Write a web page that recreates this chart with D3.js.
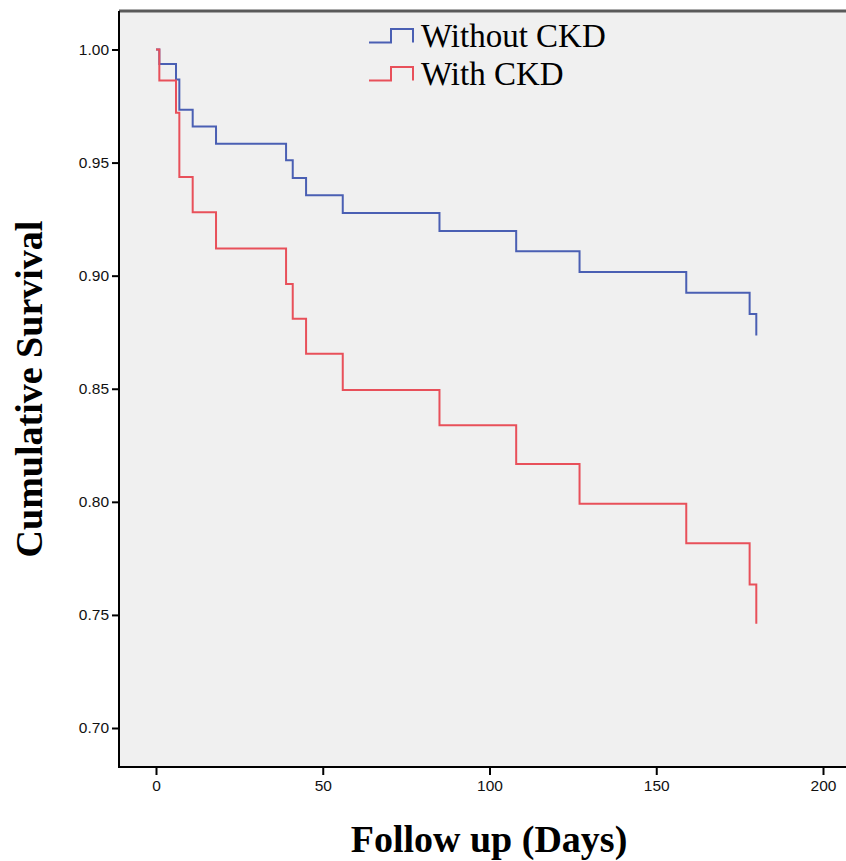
<!DOCTYPE html>
<html>
<head>
<meta charset="utf-8">
<script src="https://cdn.jsdelivr.net/npm/d3@7"></script>
<style>
  html, body { margin: 0; padding: 0; background: #ffffff; }
  svg { display: block; }
</style>
</head>
<body>
<svg id="chart" width="846" height="861"></svg>
<script>
// ---- data ----
const seriesNames = ["Without CKD", "With CKD"];
const seriesColors = ["#4a5fb3", "#e8505a"];
const days = [0, 1, 6, 7, 11, 18, 39, 41, 45, 56, 85, 108, 127, 159, 178, 180];
const survivalWithout = [1.0, 0.9936, 0.9867, 0.9734, 0.966, 0.9583, 0.951, 0.9432, 0.9356, 0.9277, 0.9197, 0.9108, 0.9016, 0.8924, 0.883, 0.8735];
const survivalWith = [1.0, 0.9863, 0.972, 0.9436, 0.928, 0.912, 0.8963, 0.881, 0.8655, 0.8495, 0.8339, 0.8167, 0.7991, 0.7817, 0.7635, 0.7461];
const xTicks = [0, 50, 100, 150, 200];
const yTicks = [0.70, 0.75, 0.80, 0.85, 0.90, 0.95, 1.00];
const xTitle = "Follow up (Days)";
const yTitle = "Cumulative Survival";

// ---- layout ----
const svg = d3.select("#chart");
const plotLeft = 119, plotTop = 11, plotBottom = 767, plotRight = 846;

const x = d3.scaleLinear().domain([0, 200]).range([156, 823]);
const y = d3.scaleLinear().domain([0.70, 1.00]).range([728, 49.5]);

// plot background
svg.append("rect")
  .attr("x", plotLeft).attr("y", plotTop)
  .attr("width", plotRight - plotLeft).attr("height", plotBottom - plotTop)
  .attr("fill", "#f0f0f0");

// top border
svg.append("line")
  .attr("x1", plotLeft).attr("x2", plotRight)
  .attr("y1", plotTop).attr("y2", plotTop)
  .attr("stroke", "#5a5a5a").attr("stroke-width", 3);

// axes
const yAxis = d3.axisLeft(y).tickValues(yTicks).tickFormat(d3.format(".2f")).tickSize(7).tickPadding(3);
const gy = svg.append("g").attr("transform", `translate(${plotLeft},0)`).call(yAxis);
gy.select(".domain").remove();
gy.selectAll(".tick line").attr("stroke", "#000").attr("stroke-width", 2);
gy.selectAll(".tick text").attr("font-family", "'Liberation Sans', Arial, sans-serif").attr("font-size", 15.5).attr("fill", "#111");

const xAxis = d3.axisBottom(x).tickValues(xTicks).tickFormat(d3.format("d")).tickSize(8).tickPadding(5);
const gx = svg.append("g").attr("transform", `translate(0,${plotBottom})`).call(xAxis);
gx.select(".domain").remove();
gx.selectAll(".tick line").attr("stroke", "#000").attr("stroke-width", 2);
gx.selectAll(".tick text").attr("font-family", "'Liberation Sans', Arial, sans-serif").attr("font-size", 15.5).attr("fill", "#111");

// axis lines
svg.append("line")
  .attr("x1", plotLeft).attr("x2", plotLeft)
  .attr("y1", plotTop).attr("y2", plotBottom + 1)
  .attr("stroke", "#000").attr("stroke-width", 2);
svg.append("line")
  .attr("x1", plotLeft).attr("x2", plotRight)
  .attr("y1", plotBottom).attr("y2", plotBottom)
  .attr("stroke", "#000").attr("stroke-width", 2);

// curves
const line = d3.line()
  .x(d => x(d[0]))
  .y(d => y(d[1]))
  .curve(d3.curveStepAfter);

const allSeries = [survivalWithout, survivalWith];
allSeries.forEach((vals, i) => {
  svg.append("path")
    .datum(days.map((t, j) => [t, vals[j]]))
    .attr("fill", "none")
    .attr("stroke", seriesColors[i])
    .attr("stroke-width", 2)
    .attr("d", line);
});

// legend
const legendBaselines = [47, 85];
seriesNames.forEach((name, i) => {
  const b = legendBaselines[i] - 4.5;
  const t = b - 13.5;
  svg.append("path")
    .attr("d", `M369,${b} H391 V${t} H413 V${b}`)
    .attr("fill", "none")
    .attr("stroke", seriesColors[i])
    .attr("stroke-width", 2);
  svg.append("text")
    .attr("x", 421).attr("y", legendBaselines[i])
    .attr("font-family", "'Liberation Serif', 'Times New Roman', serif")
    .attr("font-size", 33)
    .attr("fill", "#000")
    .text(name);
});

// axis titles
svg.append("text")
  .attr("x", 489).attr("y", 852)
  .attr("text-anchor", "middle")
  .attr("font-family", "'Liberation Serif', 'Times New Roman', serif")
  .attr("font-weight", "bold")
  .attr("font-size", 38)
  .attr("fill", "#000")
  .text(xTitle);

svg.append("text")
  .attr("transform", "translate(42,389) rotate(-90)")
  .attr("text-anchor", "middle")
  .attr("font-family", "'Liberation Serif', 'Times New Roman', serif")
  .attr("font-weight", "bold")
  .attr("font-size", 38)
  .attr("fill", "#000")
  .text(yTitle);
</script>
</body>
</html>
